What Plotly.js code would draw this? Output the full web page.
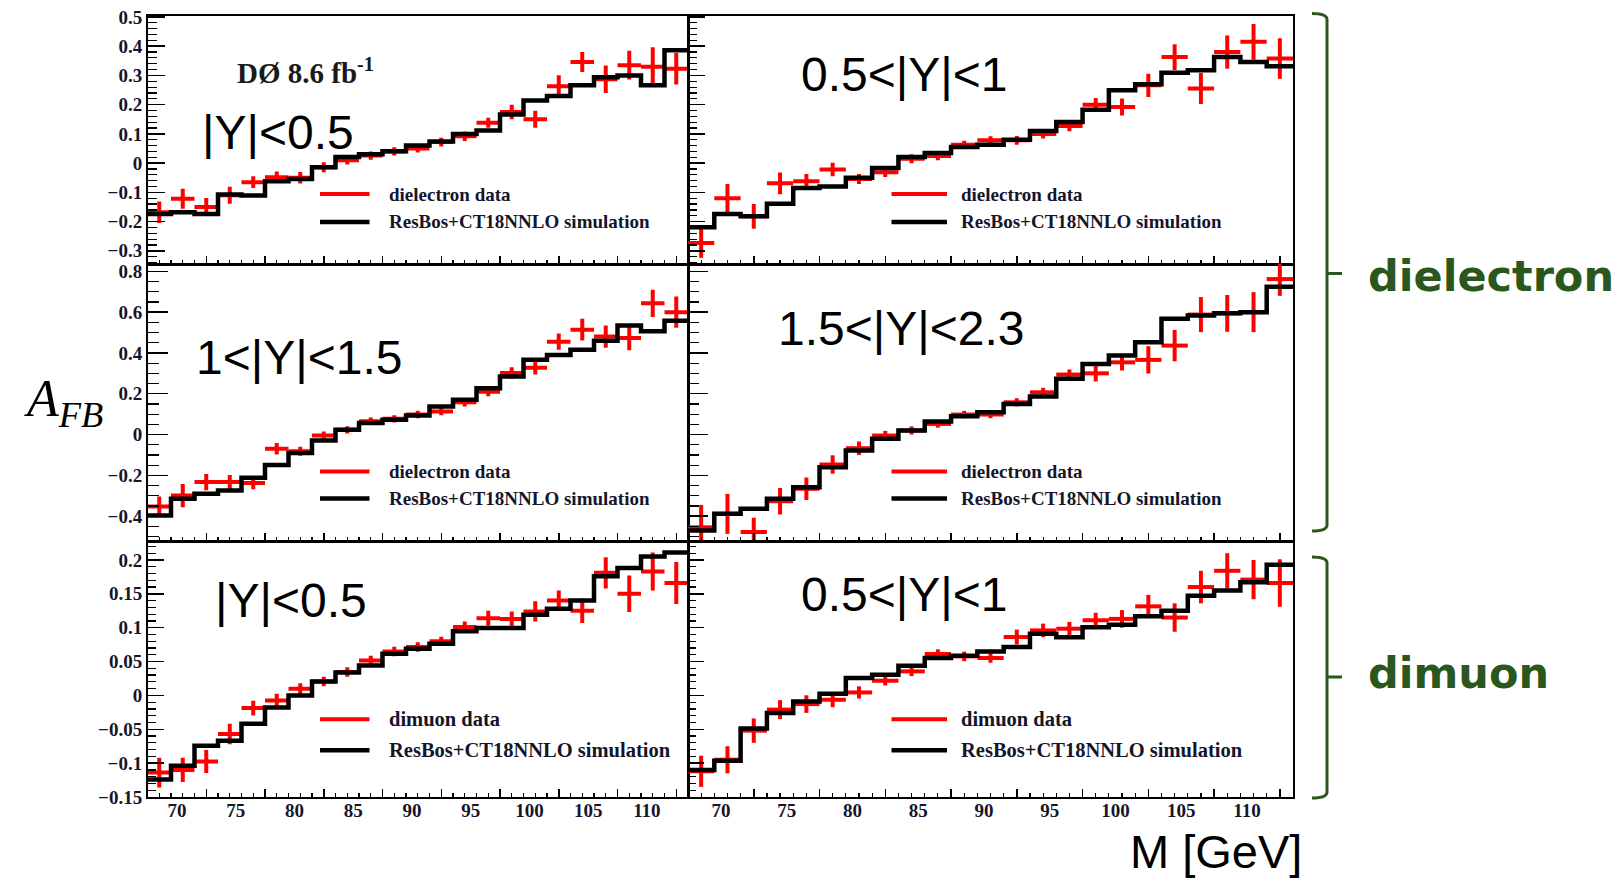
<!DOCTYPE html>
<html>
<head>
<meta charset="utf-8">
<script src="https://cdn.plot.ly/plotly-3.0.1.min.js"></script>
<style>html,body{margin:0;padding:0;background:#fff;}#chart{width:1618px;height:880px;}</style>
</head>
<body>
<div id="chart"></div>
<script>
// ---------------- data ----------------
const mass = [68.5, 70.5, 72.5, 74.5, 76.5, 78.5, 80.5, 82.5, 84.5, 86.5, 88.5, 90.5,
              92.5, 94.5, 96.5, 98.5, 100.5, 102.5, 104.5, 106.5, 108.5, 110.5, 112.5];
const binHalfWidth = 1;
const massTickLabels = [70, 75, 80, 85, 90, 95, 100, 105, 110];

// dielectron |Y|<0.5
const eeY1Data = [-0.168, -0.122, -0.150, -0.110, -0.065, -0.048, -0.050, -0.014, 0.010, 0.026, 0.040, 0.050,
                  0.072, 0.092, 0.138, 0.175, 0.150, 0.263, 0.346, 0.287, 0.335, 0.330, 0.323];
const eeY1Err  = [0.037, 0.034, 0.031, 0.029, 0.020, 0.019, 0.020, 0.017, 0.015, 0.014, 0.014, 0.014,
                  0.015, 0.016, 0.017, 0.025, 0.029, 0.038, 0.034, 0.047, 0.049, 0.066, 0.054];
const eeY1Sim  = [-0.174, -0.168, -0.174, -0.107, -0.111, -0.062, -0.054, -0.014, 0.021, 0.030, 0.041, 0.060,
                  0.074, 0.100, 0.112, 0.166, 0.214, 0.230, 0.266, 0.294, 0.300, 0.266, 0.386];
// dielectron 0.5<|Y|<1
const eeY2Data = [-0.273, -0.120, -0.182, -0.069, -0.062, -0.022, -0.054, -0.031, 0.015, 0.024, 0.063, 0.078,
                  0.078, 0.100, 0.127, 0.200, 0.192, 0.266, 0.363, 0.255, 0.380, 0.415, 0.358];
const eeY2Err  = [0.051, 0.049, 0.042, 0.037, 0.025, 0.023, 0.017, 0.016, 0.015, 0.014, 0.014, 0.014,
                  0.015, 0.016, 0.018, 0.023, 0.029, 0.040, 0.044, 0.053, 0.057, 0.061, 0.069];
const eeY2Sim  = [-0.219, -0.174, -0.182, -0.139, -0.085, -0.080, -0.050, -0.017, 0.021, 0.035, 0.055, 0.063,
                  0.080, 0.110, 0.141, 0.183, 0.249, 0.270, 0.309, 0.318, 0.363, 0.346, 0.331];
// dielectron 1<|Y|<1.5
const eeY3Data = [-0.353, -0.299, -0.233, -0.233, -0.238, -0.070, -0.082, -0.005, 0.023, 0.065, 0.077, 0.098,
                  0.113, 0.158, 0.210, 0.302, 0.327, 0.455, 0.514, 0.480, 0.473, 0.643, 0.600];
const eeY3Err  = [0.049, 0.057, 0.040, 0.035, 0.030, 0.028, 0.022, 0.020, 0.018, 0.018, 0.018, 0.018,
                  0.018, 0.020, 0.022, 0.028, 0.033, 0.040, 0.053, 0.055, 0.060, 0.067, 0.077];
const eeY3Sim  = [-0.397, -0.315, -0.290, -0.274, -0.212, -0.149, -0.091, -0.029, 0.023, 0.057, 0.072, 0.093,
                  0.137, 0.170, 0.227, 0.284, 0.366, 0.390, 0.415, 0.460, 0.534, 0.506, 0.558];
// dielectron 1.5<|Y|<2.3
const eeY4Data = [-0.455, -0.389, -0.478, -0.327, -0.266, -0.147, -0.067, -0.005, 0.020, 0.052, 0.098, 0.098,
                  0.158, 0.207, 0.294, 0.300, 0.354, 0.366, 0.436, 0.588, 0.594, 0.600, 0.762];
const eeY4Err  = [0.110, 0.098, 0.070, 0.065, 0.055, 0.045, 0.033, 0.023, 0.020, 0.018, 0.018, 0.018,
                  0.020, 0.022, 0.025, 0.040, 0.040, 0.067, 0.077, 0.086, 0.090, 0.098, 0.082];
const eeY4Sim  = [-0.470, -0.389, -0.364, -0.315, -0.258, -0.160, -0.078, -0.021, 0.020, 0.064, 0.090, 0.109,
                  0.150, 0.186, 0.273, 0.346, 0.387, 0.452, 0.567, 0.583, 0.594, 0.600, 0.725];
// dimuon |Y|<0.5
const mmY1Data = [-0.114, -0.110, -0.0975, -0.057, -0.0187, -0.0074, 0.0099, 0.0207, 0.0345, 0.0517, 0.065, 0.0714,
                  0.0798, 0.101, 0.114, 0.113, 0.124, 0.140, 0.125, 0.181, 0.150, 0.183, 0.166];
const mmY1Err  = [0.022, 0.018, 0.017, 0.015, 0.011, 0.010, 0.008, 0.007, 0.007, 0.007, 0.007, 0.007,
                  0.007, 0.008, 0.011, 0.011, 0.015, 0.015, 0.018, 0.023, 0.027, 0.028, 0.031];
const mmY1Sim  = [-0.124, -0.104, -0.0744, -0.067, -0.042, -0.0177, 0.0, 0.0207, 0.034, 0.044, 0.0616, 0.069,
                  0.0764, 0.0946, 0.0995, 0.0995, 0.119, 0.128, 0.140, 0.176, 0.188, 0.205, 0.211];
// dimuon 0.5<|Y|<1
const mmY2Data = [-0.112, -0.095, -0.052, -0.021, -0.0128, -0.0064, 0.0044, 0.0217, 0.0355, 0.0611, 0.0576, 0.0552,
                  0.0862, 0.096, 0.0985, 0.111, 0.113, 0.1315, 0.115, 0.160, 0.184, 0.171, 0.166];
const mmY2Err  = [0.023, 0.020, 0.018, 0.014, 0.013, 0.011, 0.009, 0.007, 0.007, 0.007, 0.007, 0.007,
                  0.011, 0.010, 0.010, 0.011, 0.013, 0.017, 0.021, 0.024, 0.026, 0.029, 0.035];
const mmY2Sim  = [-0.110, -0.0966, -0.049, -0.026, -0.0089, 0.0025, 0.0256, 0.0305, 0.0438, 0.0552, 0.0586, 0.065,
                  0.0714, 0.0911, 0.0857, 0.1005, 0.1044, 0.117, 0.125, 0.147, 0.155, 0.167, 0.193];

const panelLabels = ['|Y|<0.5', '0.5<|Y|<1', '1<|Y|<1.5', '1.5<|Y|<2.3', '|Y|<0.5', '0.5<|Y|<1'];
const legendData = ['dielectron data', 'dielectron data', 'dielectron data', 'dielectron data', 'dimuon data', 'dimuon data'];
const legendSim = 'ResBos+CT18NNLO simulation';
const panels = [
  [eeY1Data, eeY1Err, eeY1Sim], [eeY2Data, eeY2Err, eeY2Sim],
  [eeY3Data, eeY3Err, eeY3Sim], [eeY4Data, eeY4Err, eeY4Sim],
  [mmY1Data, mmY1Err, mmY1Sim], [mmY2Data, mmY2Err, mmY2Sim]
];

// ---------------- geometry (pixels) ----------------
const W = 1618, H = 880;
const PX = x => x / W, PY = y => 1 - y / H;
const cols = [[147.5, 688], [688, 1293]];
const rows = [[15.5, 264], [264, 541], [541, 797]];
const yRanges = [[-0.345, 0.505], [-0.522, 0.836], [-0.15, 0.228]];
const yDt = [0.1, 0.2, 0.05], yMinor = [0.02, 0.05, 0.01];
const yTickLen = [17, 20, 16], yMinorLen = [9, 11, 8];
const labelPos = [[277.6, 132], [904, 75], [299, 358], [901, 329], [291, 600], [904, 594]];
const legRowY = [[194, 222], [471.6, 498.4], [719.2, 750.2]];
const legColX = [[320, 369.5, 387], [891.5, 947, 958.6]];
const legFont = [19, 19, 20.5];

const serifBold = {family: 'Liberation Serif, Times New Roman, serif', size: 19, color: '#15152a', weight: 'bold'};

const traces = [];
const layout = {
  width: W, height: H, margin: {l: 0, r: 0, t: 0, b: 0},
  paper_bgcolor: '#fff', plot_bgcolor: '#fff', showlegend: false, hovermode: false,
  shapes: [], annotations: []
};

panels.forEach((p, i) => {
  const n = i + 1, r = Math.floor(i / 2), c = i % 2;
  const [dat, err, sim] = p;
  const xa = 'x' + n, ya = 'y' + n;
  traces.push({
    x: mass, y: dat, xaxis: xa, yaxis: ya, type: 'scatter', mode: 'markers',
    marker: {size: 1, color: '#ff0000'},
    error_x: {type: 'constant', value: binHalfWidth, width: 0, thickness: 4, color: '#ff0000'},
    error_y: {type: 'data', array: err, width: 0, thickness: 4, color: '#ff0000'}
  });
  const edges = mass.map(m => m - binHalfWidth).concat([mass[mass.length - 1] + binHalfWidth]);
  traces.push({
    x: edges, y: sim.concat([sim[sim.length - 1]]), xaxis: xa, yaxis: ya, type: 'scatter', mode: 'lines',
    line: {shape: 'hv', color: '#000', width: 4.5}
  });
  const xd = [PX(cols[c][0]), PX(cols[c][1])];
  const yd = [PY(rows[r][1]), PY(rows[r][0])];
  layout['xaxis' + n] = {
    domain: xd, anchor: ya, range: [67.5, 113.5], fixedrange: true,
    showline: true, linecolor: '#000', linewidth: 1.5, mirror: true,
    showgrid: false, zeroline: false, showticklabels: false,
    ticks: 'inside', tickmode: 'linear', tick0: 72.5, dtick: 5, ticklen: 8, tickwidth: 1.5, tickcolor: '#000',
    minor: {ticks: 'inside', tick0: 67.5, dtick: 1, ticklen: 4.5, tickwidth: 1.2, tickcolor: '#000', showgrid: false}
  };
  layout['yaxis' + n] = {
    domain: yd, anchor: xa, range: yRanges[r], fixedrange: true,
    showline: true, linecolor: '#000', linewidth: 1.5, mirror: true,
    showgrid: false, zeroline: false, showticklabels: c === 0,
    ticks: 'inside', tickmode: 'linear', tick0: 0, dtick: yDt[r], ticklen: yTickLen[r], tickwidth: 1.5, tickcolor: '#000',
    minor: {ticks: 'inside', tick0: 0, dtick: yMinor[r], ticklen: yMinorLen[r], tickwidth: 1.2, tickcolor: '#000', showgrid: false},
    tickfont: serifBold
  };
  // panel label
  layout.annotations.push({
    xref: 'paper', yref: 'paper', x: PX(labelPos[i][0]), y: PY(labelPos[i][1]),
    xanchor: 'center', yanchor: 'middle', showarrow: false, text: panelLabels[i],
    font: {family: 'Liberation Sans, Arial, sans-serif', size: 48, color: '#000'}
  });
  // legend
  const [ry, by] = legRowY[r];
  const [lx0, lx1, tx] = legColX[c];
  layout.shapes.push({type: 'line', xref: 'paper', yref: 'paper', x0: PX(lx0), x1: PX(lx1), y0: PY(ry), y1: PY(ry), line: {color: '#ff0000', width: 4}});
  layout.shapes.push({type: 'line', xref: 'paper', yref: 'paper', x0: PX(lx0), x1: PX(lx1), y0: PY(by), y1: PY(by), line: {color: '#000', width: 4.5}});
  layout.annotations.push({xref: 'paper', yref: 'paper', x: PX(tx), y: PY(ry), xanchor: 'left', yanchor: 'middle', showarrow: false,
    text: legendData[i], font: Object.assign({}, serifBold, {size: legFont[r]})});
  layout.annotations.push({xref: 'paper', yref: 'paper', x: PX(tx), y: PY(by), xanchor: 'left', yanchor: 'middle', showarrow: false,
    text: legendSim, font: Object.assign({}, serifBold, {size: legFont[r]})});
});

// x tick labels on bottom row (overlay axes carry only labels)
[[7, 5], [8, 6]].forEach(([k, base]) => {
  layout['xaxis' + k] = {
    overlaying: 'x' + base, anchor: 'y' + base, range: [67.5, 113.5], fixedrange: true,
    showline: false, showgrid: false, zeroline: false, ticks: '',
    tickmode: 'array', tickvals: massTickLabels, ticktext: massTickLabels.map(String),
    tickfont: serifBold, side: 'bottom'
  };
  traces.push({x: [null], y: [null], xaxis: 'x' + k, yaxis: 'y' + base, type: 'scatter', mode: 'markers', hoverinfo: 'skip'});
});

// overall texts
layout.annotations.push({xref: 'paper', yref: 'paper', x: PX(305), y: PY(71), xanchor: 'center', yanchor: 'middle', showarrow: false,
  text: 'DØ 8.6 fb<sup>-1</sup>', font: {family: 'Liberation Serif, Times New Roman, serif', size: 29, color: '#1a1a1a', weight: 'bold'}});
layout.annotations.push({xref: 'paper', yref: 'paper', x: PX(63), y: PY(402), xanchor: 'center', yanchor: 'middle', showarrow: false,
  text: '<i>A<sub>FB</sub></i>', font: {family: 'Liberation Serif, Times New Roman, serif', size: 52, color: '#000'}});
layout.annotations.push({xref: 'paper', yref: 'paper', x: PX(1216), y: PY(851), xanchor: 'center', yanchor: 'middle', showarrow: false,
  text: 'M [GeV]', font: {family: 'Liberation Sans, Arial, sans-serif', size: 47, color: '#000'}});

// group brackets
const green = '#2b571c';
function bracket(top, bot, mid) {
  const xl = 1312, xv = 1327, xt = 1342;
  return {type: 'path', xref: 'paper', yref: 'paper', line: {color: green, width: 3},
    path: `M ${PX(xl)},${PY(top)} Q ${PX(xv)},${PY(top)} ${PX(xv)},${PY(top + 6)} L ${PX(xv)},${PY(bot - 6)} Q ${PX(xv)},${PY(bot)} ${PX(xl)},${PY(bot)} M ${PX(xv)},${PY(mid)} L ${PX(xt)},${PY(mid)}`};
}
layout.shapes.push(bracket(13.5, 531, 273.5));
layout.shapes.push(bracket(557, 798, 677));
layout.annotations.push({xref: 'paper', yref: 'paper', x: PX(1491), y: PY(276), xanchor: 'center', yanchor: 'middle', showarrow: false,
  text: 'dielectron', font: {family: 'DejaVu Sans, sans-serif', size: 43, color: green, weight: 'bold'}});
layout.annotations.push({xref: 'paper', yref: 'paper', x: PX(1458), y: PY(673), xanchor: 'center', yanchor: 'middle', showarrow: false,
  text: 'dimuon', font: {family: 'DejaVu Sans, sans-serif', size: 43, color: green, weight: 'bold'}});

Plotly.newPlot('chart', traces, layout, {staticPlot: true, displayModeBar: false});
</script>
</body>
</html>
